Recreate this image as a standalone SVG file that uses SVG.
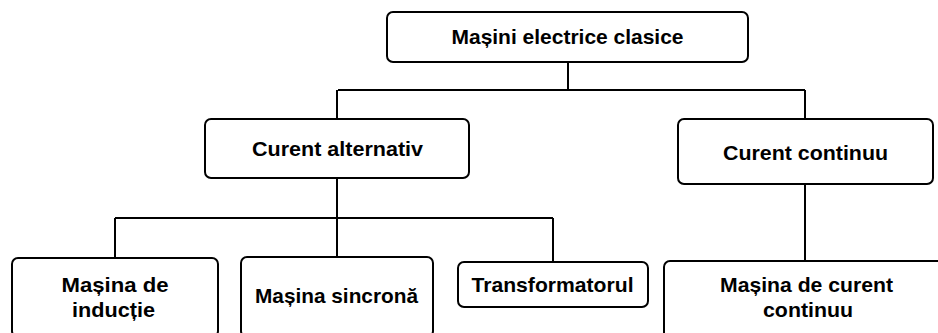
<svg xmlns="http://www.w3.org/2000/svg" width="938" height="333" viewBox="0 0 938 333">
<style>
.box{fill:#fff;stroke:#000;stroke-width:2}
.ln{fill:none;stroke:#000;stroke-width:2}
text{font-family:"Liberation Sans","Open Sans",Arial,sans-serif;font-weight:bold;font-size:21px;fill:#000;text-anchor:middle}
</style>
<rect width="938" height="333" fill="#fff"/>
<g id="connectors">
<path class="ln" d="M568,62 V90 M338,90 H805 M337,90 V119 M805,90 V119"/>
<path class="ln" d="M337,178 V258 M115,218 H553 M115,218 V258 M553,218 V262"/>
<path class="ln" d="M805,184 V261"/>
</g>
<g id="n-root">
<rect class="box" x="387" y="12" width="361" height="50" rx="6"/>
<text x="567.5" y="44" textLength="232" lengthAdjust="spacingAndGlyphs">Mașini electrice clasice</text>
</g>
<g id="n-ca">
<rect class="box" x="205" y="119" width="264" height="59" rx="6"/>
<text x="337.5" y="156" textLength="171" lengthAdjust="spacingAndGlyphs">Curent alternativ</text>
</g>
<g id="n-cc">
<rect class="box" x="678" y="119" width="255" height="65" rx="6"/>
<text x="805.5" y="160" textLength="165" lengthAdjust="spacingAndGlyphs">Curent continuu</text>
</g>
<g id="n-inductie">
<rect class="box" x="12" y="258" width="206" height="79" rx="6"/>
<text x="115" y="292" textLength="107" lengthAdjust="spacingAndGlyphs">Mașina de</text>
<text x="113.5" y="317" textLength="83" lengthAdjust="spacingAndGlyphs">inducție</text>
</g>
<g id="n-sincrona">
<rect class="box" x="241" y="257" width="192" height="80" rx="6"/>
<text x="336.5" y="303" textLength="163" lengthAdjust="spacingAndGlyphs">Mașina sincronă</text>
</g>
<g id="n-transf">
<rect class="box" x="458" y="262" width="190" height="45" rx="6"/>
<text x="552.5" y="292" textLength="162" lengthAdjust="spacingAndGlyphs">Transformatorul</text>
</g>
<g id="n-mcc">
<rect class="box" x="664" y="261" width="280" height="80" rx="6"/>
<text x="806.5" y="292" textLength="173" lengthAdjust="spacingAndGlyphs">Mașina de curent</text>
<text x="808" y="317" textLength="90" lengthAdjust="spacingAndGlyphs">continuu</text>
</g>
</svg>
